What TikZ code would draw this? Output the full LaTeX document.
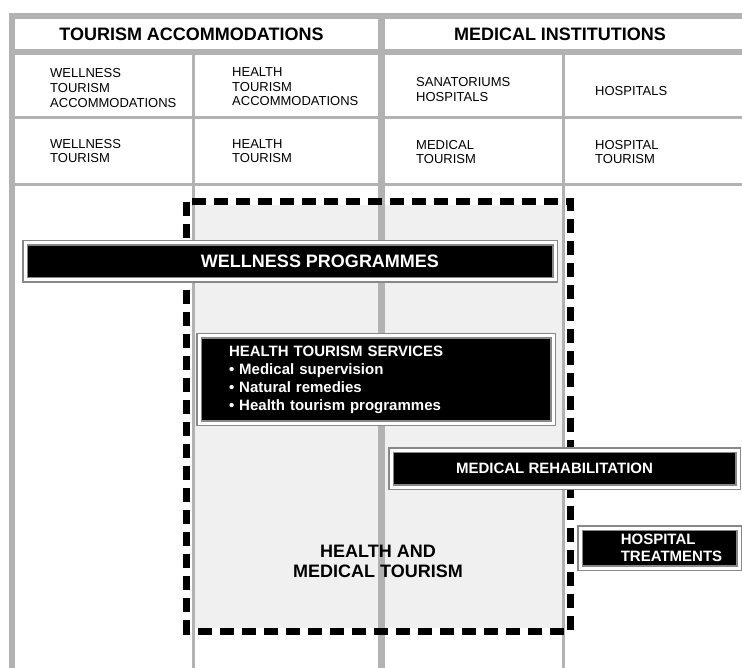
\documentclass[tikz,border=0pt]{standalone}
\usepackage{fontspec}
\setmainfont{Liberation Sans}
\definecolor{gridgray}{HTML}{B2B2B2}
\definecolor{boxgray}{HTML}{888888}
\definecolor{fillgray}{HTML}{F0F0F0}

\begin{document}
\begin{tikzpicture}[x=1pt,y=-1pt,
   cell/.style={anchor=north west,inner sep=0pt,align=left,font=\fontsize{13}{14.6}\selectfont},
   head/.style={inner sep=0pt,font=\fontsize{18}{20}\selectfont\bfseries},
   bar/.style={fill=black,draw=boxgray,double=white,line width=1.6pt,double distance=3pt,inner sep=0pt},
   bartext/.style={text=white,inner sep=0pt,align=left,font=\fontsize{15}{18}\selectfont\bfseries}]
   \useasboundingbox[fill=white] (0,0) rectangle (742,668);

   \fill[fillgray] (193.5,205.5) rectangle (563.5,627.5);
   \draw[gridgray,line width=6pt] (9,16) -- (742,16);
   \draw[gridgray,line width=6pt] (9,52.5) -- (742,52.5);
   \draw[gridgray,line width=6pt] (12,13) -- (12,668);
   \draw[gridgray,line width=7pt] (381.5,13) -- (381.5,668);
   \draw[gridgray,line width=3pt] (193.5,55) -- (193.5,668);
   \draw[gridgray,line width=3pt] (563.5,55) -- (563.5,668);
   \draw[gridgray,line width=3pt] (15,118) -- (742,118);
   \draw[gridgray,line width=3pt] (15,185) -- (742,185);
   \draw[line width=7pt,dash pattern=on 14pt off 8pt] (186.5,202) rectangle (570,631);

   \node[head] (accom) at (191.5,34) {TOURISM ACCOMMODATIONS};
   \node[head] (medinst) at (560,34) {MEDICAL INSTITUTIONS};

   \node[cell] (wta) at (50,68.6) {WELLNESS\\TOURISM\\ACCOMMODATIONS};
   \node[cell] (hta) at (232,67.6) {HEALTH\\TOURISM\\ACCOMMODATIONS};
   \node[cell] (sanat) at (416,77.6) {SANATORIUMS\\HOSPITALS};
   \node[cell] (hosp) at (595,86.6) {HOSPITALS};
   \node[cell] (wt) at (50,139) {WELLNESS\\TOURISM};
   \node[cell] (ht) at (232,139) {HEALTH\\TOURISM};
   \node[cell] (mt) at (416,140) {MEDICAL\\TOURISM};
   \node[cell] (hospt) at (595,140) {HOSPITAL\\TOURISM};

   \node[bar,minimum width=530pt,minimum height=37pt] (wp) at (290,261.5) {};
   \node[bartext,font=\fontsize{18}{20}\selectfont\bfseries] (wptext) at ([xshift=30pt]wp.center) {WELLNESS PROGRAMMES};

   \node[bar,bartext,inner xsep=30pt,text width=294pt,minimum width=354pt,minimum height=87pt] (hts) at (376,379.5)
      {HEALTH TOURISM SERVICES\\• Medical supervision\\• Natural remedies\\• Health tourism programmes};

   \node[bar,minimum width=347pt,minimum height=37pt] (mr) at (564.5,468.5) {};
   \node[bartext] (mrtext) at ([xshift=-10pt]mr.center) {MEDICAL REHABILITATION};

   \node[bar,minimum width=159pt,minimum height=40pt] (hospitaltr) at (659.5,548) {};
   \node[bartext,font=\fontsize{15}{17}\selectfont\bfseries] (hospitaltrtext) at ([xshift=12pt]hospitaltr.center) {HOSPITAL\\TREATMENTS};

   \node[inner sep=0pt,align=center,font=\fontsize{18}{20.5}\selectfont\bfseries] (hmt) at (378,561.5) {HEALTH AND\\MEDICAL TOURISM};
\end{tikzpicture}
\end{document}
